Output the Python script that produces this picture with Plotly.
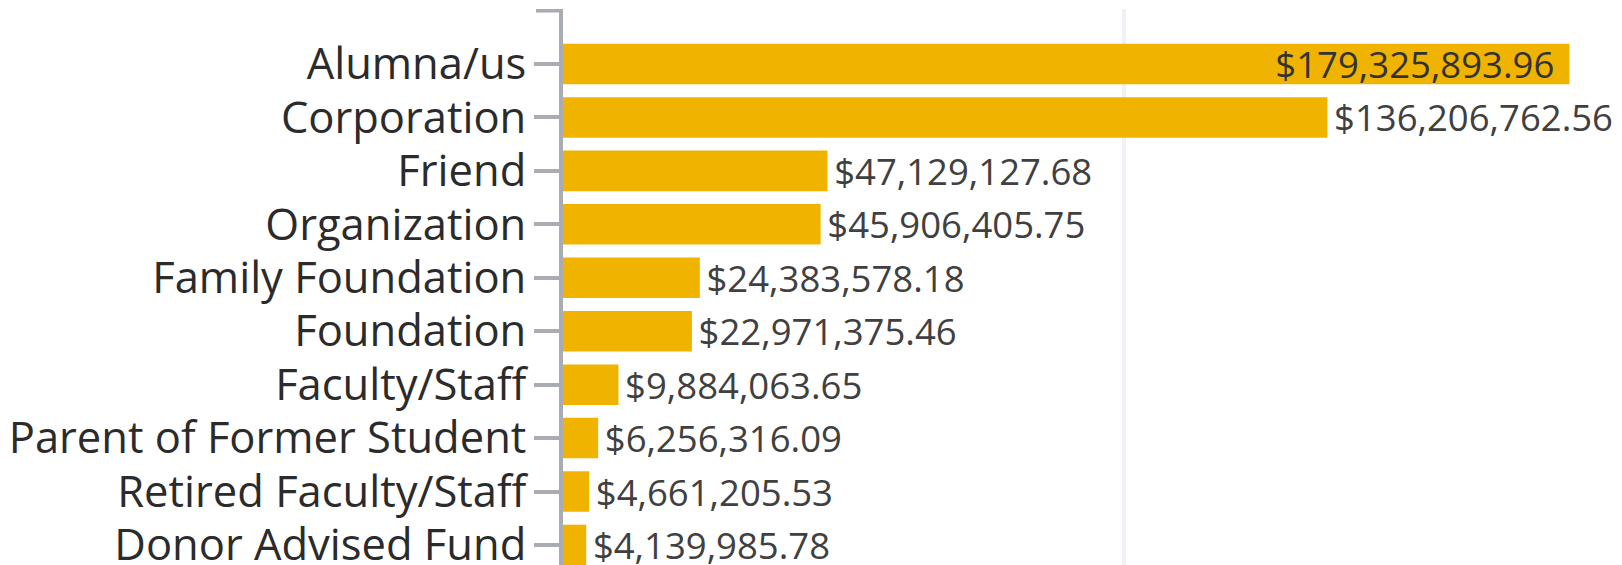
import plotly.graph_objects as go

categories = ["Alumna/us", "Corporation", "Friend", "Organization", "Family Foundation",
              "Foundation", "Faculty/Staff", "Parent of Former Student",
              "Retired Faculty/Staff", "Donor Advised Fund"]
values = [179325893.96, 136206762.56, 47129127.68, 45906405.75, 24383578.18,
          22971375.46, 9884063.65, 6256316.09, 4661205.53, 4139985.78]
label_positions = ["inside"] + ["outside"] * 9

labels = ["${:,.2f}".format(v) for v in values]
labels = [labels[0] + "\u2009\u2009"] + ["\u200a" + t for t in labels[1:]]

# the page body adds an 8px offset; figure is sized so the plot fills the window
fig = go.Figure(go.Bar(
    x=values, y=categories, orientation="h",
    marker=dict(color="#F0B400", line=dict(width=0)),
    text=labels, textposition=label_positions,
    insidetextanchor="end",
    constraintext="none", cliponaxis=False,
    textfont=dict(family="Open Sans", size=36.5, color="#404040"),
    insidetextfont=dict(family="Open Sans", size=36.5, color="#333333"),
    outsidetextfont=dict(family="Open Sans", size=36.5, color="#404040"),
    hoverinfo="skip",
))

fig.update_layout(
    width=1614, height=557,
    margin=dict(l=555, r=0, t=1, b=0, autoexpand=False),
    paper_bgcolor="white", plot_bgcolor="white",
    bargap=0.242, showlegend=False,
    xaxis=dict(range=[0, 188.7e6], dtick=100e6, tick0=0, showticklabels=False,
               showgrid=True, gridcolor="#EEF1F6", gridwidth=4, zeroline=False,
               showline=False, ticks="", automargin=False),
    yaxis=dict(type="category", range=[9.375, -1.029], showline=True,
               linecolor="#A9ADB3", linewidth=4, ticks="outside", ticklen=25,
               tickwidth=4, tickcolor="#A9ADB3", ticklabelstandoff=-1,
               tickfont=dict(family="Open Sans", size=43.5, color="#2B2B2B"),
               showgrid=False, zeroline=False, automargin=False),
    shapes=[dict(type="line", xref="paper", xsizemode="pixel", xanchor=0, x0=-27, x1=-1,
                 yref="y", y0=-1, y1=-1, line=dict(color="#A9ADB3", width=4))],
)

fig.write_html("out.html")
